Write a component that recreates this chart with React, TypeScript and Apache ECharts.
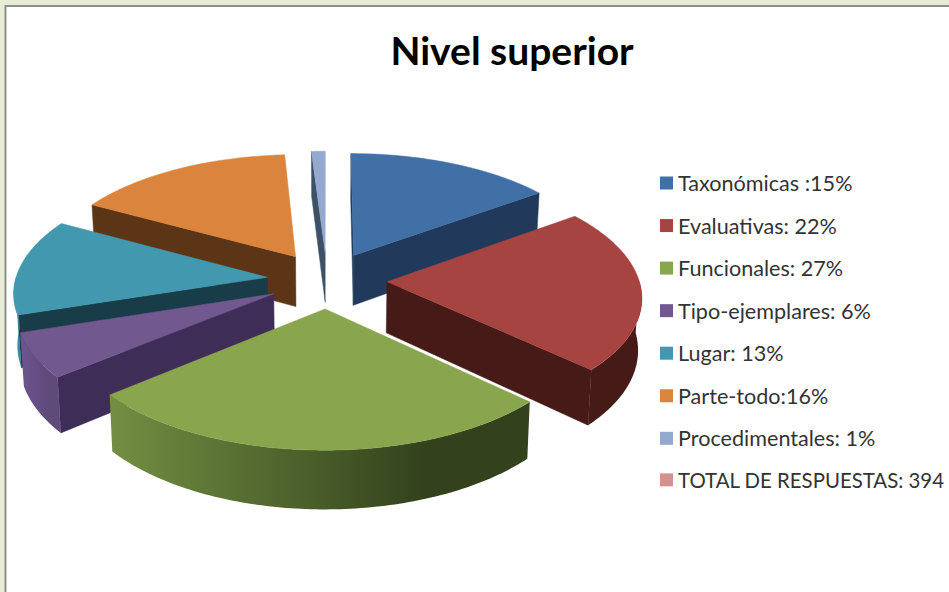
import React, { useEffect, useRef } from "react";
import * as echarts from "echarts";

const sliceNames = [
  "Taxonómicas :15%",
  "Evaluativas: 22%",
  "Funcionales: 27%",
  "Tipo-ejemplares: 6%",
  "Lugar: 13%",
  "Parte-todo:16%",
  "Procedimentales: 1%",
  "TOTAL DE RESPUESTAS: 394",
];
const sliceValues = [15, 22, 27, 6, 13, 16, 1, 0];
const topColors = ["#4170a6", "#a54441", "#89a54e", "#71588f", "#4198af", "#db843d", "#93a9cf", "#d19392"];
const cutColors = ["#213a5c", "#451a17", "#3c4a1f", "#3e2e57", "#183c48", "#5b3515", "#3d5066", "#7a4a49"];
const wallLeftColors = ["#2a4a75", "#451a17", "#728f42", "#6e5590", "#3a8ca3", "#8a5226", "#5d6d88", "#7a4a49"];
const wallRightColors = ["#213a5c", "#451a17", "#33421c", "#5f4a7a", "#3a8ca3", "#5b3515", "#3d5066", "#7a4a49"];
const paintOrder = [6, 0, 5, 4, 3, 1, 2, 7];

const CX = 327;
const CY = 280;
const RADIUS = 252;
const EXPLODE = 60;
const TILT = 0.47;
const PERSPECTIVE = 0.000444;
const DEPTH = 51;
const BOTTOM_SHRINK = 0.012;

const total = sliceValues.reduce((a, b) => a + b, 0);
const cumulative = sliceValues.reduce<number[]>((acc, v) => [...acc, acc[acc.length - 1] + v], [0]);

function project(X: number, Y: number, low: boolean): number[] {
  const s = 1 / (1 - PERSPECTIVE * Y);
  const shrink = low ? 1 - BOTTOM_SHRINK : 1;
  return [CX + X * s * shrink, CY + TILT * Y * s + (low ? DEPTH * s : 0)];
}

function sliceShapes(index: number) {
  const start = (cumulative[index] / total) * Math.PI * 2;
  const end = (cumulative[index + 1] / total) * Math.PI * 2;
  const mid = (start + end) / 2;
  const ox = EXPLODE * Math.sin(mid);
  const oy = -EXPLODE * Math.cos(mid);
  const steps = Math.max(2, Math.ceil(((end - start) * 180) / Math.PI));
  const at = (t: number) => [ox + RADIUS * Math.sin(t), oy - RADIUS * Math.cos(t)];
  const P = (p: number[], low = false) => project(p[0], p[1], low);
  const rim: number[][] = [];
  for (let i = 0; i <= steps; i++) rim.push(at(start + ((end - start) * i) / steps));
  const apex = [ox, oy];
  const face = (a: number[], b: number[]) => [P(a), P(b), P(b, true), P(a, true)];

  // Only the part of the outer wall that faces the viewer (the front half of the rim).
  const wa = Math.max(start, Math.PI / 2);
  const wb = Math.min(end, (Math.PI * 3) / 2);
  let wall: number[][] | null = null;
  let minX = 0;
  let maxX = 1;
  if (wb > wa) {
    const wallRim: number[][] = [];
    for (let i = 0; i <= steps; i++) wallRim.push(at(wa + ((wb - wa) * i) / steps));
    const upper = wallRim.map((p) => P(p));
    wall = [...upper, ...wallRim.map((p) => P(p, true)).reverse()];
    const xs = upper.map((p) => p[0]);
    minX = Math.min(...xs);
    maxX = Math.max(...xs);
  }
  return {
    top: [P(apex), ...rim.map((p) => P(p))],
    wall,
    minX,
    maxX,
    // The radial faces that turn towards the viewer.
    cutA: Math.sin(start) <= 0 ? face(apex, rim[0]) : null,
    cutB: Math.sin(end) > 0 ? face(apex, rim[rim.length - 1]) : null,
  };
}

function poly(points: number[][], fill: any) {
  return {
    type: "polygon",
    shape: { points },
    style: { fill, stroke: typeof fill === "string" ? fill : undefined, lineWidth: 0.5 },
    silent: true,
  };
}

function makeRender(index: number) {
  return () => {
    if (!sliceValues[index]) return null;
    const s = sliceShapes(index);
    const children: any[] = [];
    if (s.cutA) children.push(poly(s.cutA, cutColors[index]));
    if (s.cutB) children.push(poly(s.cutB, cutColors[index]));
    if (s.wall) {
      children.push(
        poly(
          s.wall,
          new echarts.graphic.LinearGradient(
            s.minX, 0, s.maxX, 0,
            [
              { offset: 0, color: wallLeftColors[index] },
              { offset: 0.75, color: wallRightColors[index] },
              { offset: 1, color: wallRightColors[index] },
            ],
            true,
          ),
        ),
      );
    }
    children.push(poly(s.top, topColors[index]));
    return { type: "group", children };
  };
}

export default function App() {
  const ref = useRef<HTMLDivElement>(null);
  useEffect(() => {
    const chart = echarts.init(ref.current!, undefined, { renderer: "svg" });
    chart.setOption({
      animation: false,
      backgroundColor: "#e6ecd5",
      title: {
        text: "Nivel superior",
        left: 507,
        top: 25,
        textAlign: "center",
        textStyle: { fontFamily: "Lato", fontWeight: "bold", fontSize: 39, color: "#000000" },
      },
      legend: {
        orient: "vertical",
        left: 655,
        top: 167,
        icon: "rect",
        itemWidth: 13,
        itemHeight: 13,
        itemGap: 20.55,
        data: sliceNames,
        selectedMode: false,
        formatter: (name: string) => (name.startsWith("TOTAL") ? `{caps|${name}}` : name),
        textStyle: {
          fontFamily: "Lato",
          fontSize: 21.6,
          lineHeight: 20,
          color: "#333333",
          rich: { caps: { fontFamily: "Lato", fontSize: 20.4, lineHeight: 20, color: "#333333" } },
        },
      },
      graphic: [
        {
          type: "rect",
          z: -1,
          shape: { x: 5.5, y: 6, width: 960, height: 600 },
          style: { fill: "#ffffff", stroke: "#8e8e8e", lineWidth: 2 },
          silent: true,
        },
      ],
      series: paintOrder.map((i, order) => ({
        type: "custom",
        name: sliceNames[i],
        coordinateSystem: "none",
        z: 2 + order,
        itemStyle: { color: topColors[i] },
        data: [sliceValues[i]],
        renderItem: makeRender(i),
        silent: true,
      })),
    });
    return () => chart.dispose();
  }, []);
  return <div ref={ref} style={{ position: "fixed", left: 0, top: 0, width: 949, height: 592 }} />;
}
